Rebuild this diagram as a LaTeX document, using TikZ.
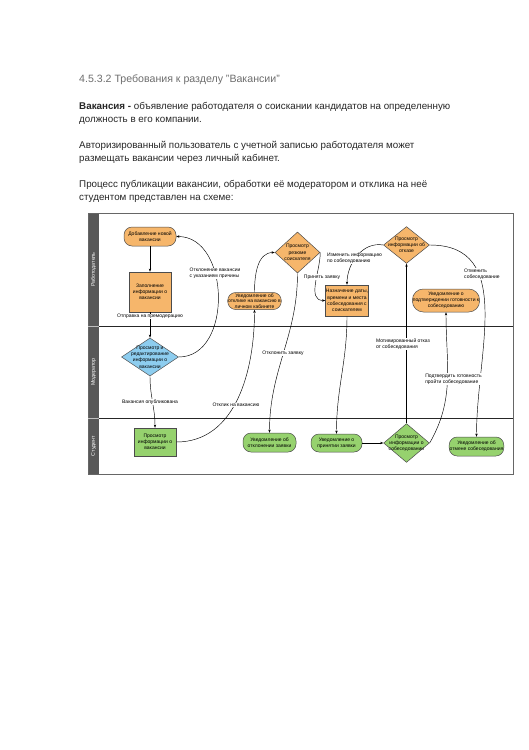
\documentclass[tikz,border=0pt]{standalone}
\usepackage{fontspec}
\setmainfont{Liberation Sans}
\usetikzlibrary{shapes.geometric, arrows.meta}

\definecolor{empfill}{HTML}{F6B66B}
\definecolor{modfill}{HTML}{8DCDEF}
\definecolor{stufill}{HTML}{96D26E}
\definecolor{lanegray}{HTML}{585858}
\definecolor{titlegray}{HTML}{6E6E6E}

\tikzset{
  tiny/.style={font=\fontsize{5}{6.2}\selectfont},
  process/.style={tiny, draw=black!70, line width=0.5pt, rectangle, align=center, inner sep=0.5pt},
  terminal/.style={tiny, draw=black!70, line width=0.5pt, rectangle, rounded corners=8pt, align=center, inner sep=0.5pt},
  decision/.style={tiny, draw=black!70, line width=0.5pt, diamond, align=center},
  flowlabel/.style={tiny, fill=white, inner sep=0.4pt, align=left},
  lanetitle/.style={font=\fontsize{5.3}{6}\selectfont, text=white, rotate=90, inner sep=0pt},
  para/.style={anchor=base west, inner sep=0pt, font=\fontsize{9.8}{13}\selectfont, text=black!85},
}

\begin{document}
\begin{tikzpicture}[x=1pt, y=1pt, >={Stealth[length=3.2pt, width=2.4pt]}, line width=0.45pt]
  % Page
  \fill[white] (0,0) rectangle (529,-750);
  \useasboundingbox (0,0) rectangle (529,-750);

  % Heading and text
  \node[para, font=\fontsize{10.6}{13}\selectfont, text=titlegray] (title) at (79,-82) {4.5.3.2 Требования к разделу "Вакансии"};
  \node[para] (text1) at (79,-109.5) {\textbf{Вакансия -} объявление работодателя о соискании кандидатов на определенную};
  \node[para] (text2) at (79,-122.5) {должность в его компании.};
  \node[para] (text3) at (79,-148.5) {Авторизированный пользователь с учетной записью работодателя может};
  \node[para] (text4) at (79,-161.5) {размещать вакансии через личный кабинет.};
  \node[para] (text5) at (79,-187.5) {Процесс публикации вакансии, обработки её модератором и отклика на неё};
  \node[para] (text6) at (79,-200.5) {студентом представлен на схеме:};

  % Swimlanes
  \fill[lanegray] (88,-213) rectangle (99,-474);
  \draw[black!60, line width=0.6pt] (88,-213) rectangle (513,-474);
  \draw[black!85] (99,-326) -- (513,-326);
  \draw[black!85] (99,-418) -- (513,-418);
  \draw[black!25] (88,-326) -- (99,-326);
  \draw[black!25] (88,-418) -- (99,-418);
  \node[lanetitle] (lane1) at (93.5,-269.5) {Работодатель};
  \node[lanetitle] (lane2) at (93.5,-372) {Модератор};
  \node[lanetitle] (lane3) at (93.5,-446) {Студент};

  % Define the nodes
  \node[terminal, fill=empfill, minimum width=52pt, minimum height=19pt] (add) at (150,-236.5) {Добавление новой\\вакансии};
  \node[process, fill=empfill, minimum width=42pt, minimum height=40pt] (form) at (150,-292) {Заполнение\\информации о\\вакансии};
  \node[decision, fill=modfill, minimum width=57pt, minimum height=38pt, aspect=1.5, inner sep=-3.3pt] (review) at (150,-357) {Просмотр и\\редактирование\\информации о\\вакансии};
  \node[process, fill=stufill, minimum width=42pt, minimum height=28pt] (details) at (155,-442) {Просмотр\\информации о\\вакансии};
  \node[terminal, fill=empfill, minimum width=53pt, minimum height=17pt, font=\fontsize{5}{5.4}\selectfont] (response) at (254.5,-301) {Уведомление об\\отклике на вакансию в\\личном кабинете};
  \node[decision, fill=empfill, minimum width=45pt, minimum height=41pt, aspect=1.1, inner sep=0pt] (resume) at (297.5,-252.5) {Просмотр\\резюме\\соискателя};
  \node[terminal, fill=stufill, minimum width=53pt, minimum height=19pt] (rejected) at (269.5,-442.5) {Уведомление об\\отклонении заявки};
  \node[process, fill=empfill, minimum width=42pt, minimum height=31pt] (schedule) at (347,-300.5) {Назначение даты,\\времени и места\\собеседования с\\соискателем};
  \node[terminal, fill=stufill, minimum width=51pt, minimum height=18pt] (accepted) at (336.5,-443) {Уведомление о\\принятии заявки};
  \node[decision, fill=stufill, minimum width=45pt, minimum height=38pt, aspect=1.18, inner sep=-2.2pt] (invite) at (406.5,-443) {Просмотр\\информации о\\собеседовании};
  \node[decision, fill=empfill, minimum width=45pt, minimum height=36pt, aspect=1.25, inner sep=-2.4pt] (refusal) at (406.5,-245) {Просмотр\\информации об\\отказе};
  \node[terminal, fill=empfill, minimum width=64pt, minimum height=23pt, rounded corners=11pt] (ready) at (446,-300.5) {Уведомление о\\подтверждении готовности к\\собеседованию};
  \node[terminal, fill=stufill, minimum width=51pt, minimum height=19pt] (cancelled) at (476.5,-446.5) {Уведомление об\\отмене собеседования};

  % Draw the connections
  \draw[->] (add) -- (form);
  \draw[->] (form) -- (review);
  \draw[->] (review.east) to[out=0, in=0, looseness=1.15] (add.east);
  \draw[->] (review.south) to[out=-90, in=90] (details.north);
  \draw[->] (details.east) to[out=0, in=-90] (response.south);
  \draw[->] (response.north) to[out=90, in=180] (resume.west);
  \draw[->] (resume.south) to[out=-90, in=90] (rejected.north);
  \draw[->] (resume.east) to[out=-90, in=180] (schedule.west);
  \draw[->] (refusal.west) to[out=170, in=90] (schedule.north);
  \draw[->] (schedule.south) to[out=-90, in=90] (accepted.north);
  \draw[->] (accepted) -- (invite);
  \draw[->] (invite.north) -- (refusal.south);
  \draw[->] (refusal.east) to[out=0, in=90, looseness=1.1] (cancelled.north);
  \draw[->] (invite.east) to[out=60, in=-90] (ready.south);

  % Label the connections
  \node[flowlabel] (l-send) at (150,-316.5) {Отправка на премодерацию};
  \node[flowlabel] (l-back) at (215,-273.5) {Отклонение вакансии\\с указанием причины};
  \node[flowlabel] (l-pub) at (150,-402) {Вакансия опубликована};
  \node[flowlabel] (l-reply) at (236,-405) {Отклик на вакансию};
  \node[flowlabel] (l-decline) at (283,-353) {Отклонить заявку};
  \node[flowlabel] (l-take) at (322,-277) {Принять заявку};
  \node[flowlabel] (l-change) at (354.5,-258.5) {Изменить информацию\\по собеседованию};
  \node[flowlabel] (l-refuse) at (403,-344) {Мотивированный отказ\\от собеседования};
  \node[flowlabel] (l-cancel) at (482,-274) {Отменить\\собеседование};
  \node[flowlabel] (l-confirm) at (453.5,-379) {Подтвердить готовность\\пройти собеседование};
\end{tikzpicture}
\end{document}
